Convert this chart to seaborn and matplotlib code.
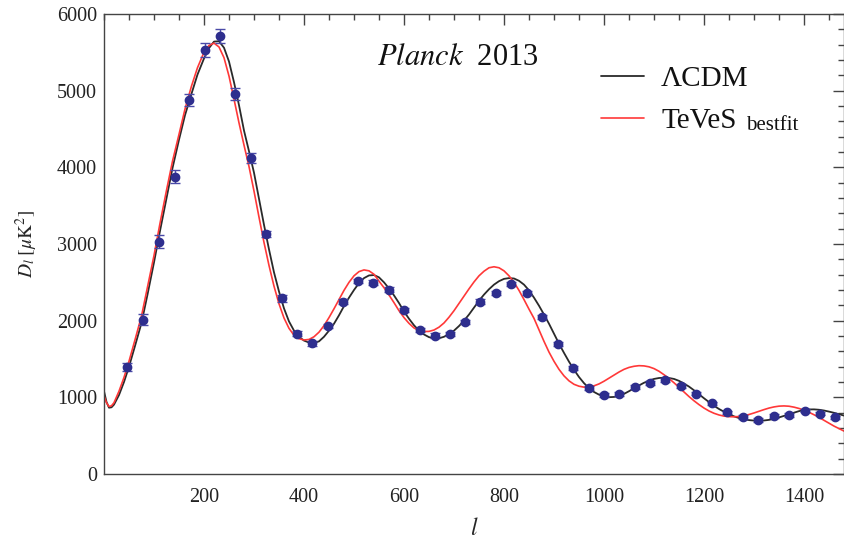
import numpy as np
import pandas as pd
import matplotlib
matplotlib.use("Agg")
import matplotlib.pyplot as plt
import seaborn as sns
from matplotlib.ticker import MultipleLocator, FixedLocator

# ---------------- data ----------------
l_data = [47, 78, 110, 142, 170, 202, 232, 262, 294, 324, 356, 386, 416, 448, 478,
          508, 538, 570, 600, 632, 662, 692, 722, 752, 784, 814, 846, 876, 908, 938,
          970, 1000, 1030, 1062, 1092, 1122, 1154, 1184, 1216, 1246, 1278, 1308, 1340,
          1370, 1402, 1432, 1462]
D_data = [1400, 2015, 3030, 3880, 4880, 5530, 5710, 4960, 4120, 3130, 2290, 1830, 1705,
          1930, 2250, 2515, 2495, 2405, 2135, 1880, 1805, 1830, 1985, 2250, 2360, 2480,
          2357, 2042, 1695, 1378, 1125, 1029, 1045, 1135, 1185, 1230, 1148, 1050, 922,
          805, 744, 703, 757, 768, 826, 787, 737]
D_err = [50, 75, 85, 87, 80, 95, 90, 80, 65, 45, 40, 35, 30, 30, 30, 30, 30, 30, 28,
         28, 28, 28, 28, 28, 28, 28, 26, 26, 26, 26, 25, 25, 25, 25, 24, 24, 24, 24,
         23, 23, 22, 22, 22, 22, 21, 21, 20]

l_low = [0, 5, 10, 15, 20, 30, 40, 50, 62, 75, 87, 100, 112, 125, 137, 150, 162, 175,
         187, 200]
l_high = list(range(210, 1490, 10))
l_curve = l_low + l_high

D_lcdm = [1080, 940, 865, 870, 905, 1030, 1200, 1400, 1670, 1970,
          2340, 2760, 3170, 3600, 3990, 4360, 4680, 4960, 5210, 5420,
          # 210 - 300
          5555, 5640, 5645, 5560, 5380, 5110, 4810, 4480, 4210, 3930,
          # 310 - 400
          3590, 3250, 2930, 2630, 2380, 2160, 1990, 1870, 1790, 1740,
          # 410 - 500
          1715, 1710, 1730, 1790, 1870, 1960, 2070, 2190, 2300, 2400,
          # 510 - 600
          2490, 2555, 2590, 2595, 2565, 2500, 2420, 2330, 2230, 2120,
          # 610 - 700
          2025, 1940, 1870, 1820, 1785, 1770, 1770, 1790, 1825, 1870,
          # 710 - 800
          1930, 2000, 2080, 2170, 2260, 2340, 2410, 2470, 2515, 2545,
          # 810 - 900
          2555, 2550, 2520, 2470, 2395, 2300, 2195, 2080, 1960, 1830,
          # 910 - 1000
          1700, 1580, 1465, 1360, 1265, 1185, 1120, 1070, 1035, 1012,
          # 1010 - 1100
          1002, 1005, 1020, 1045, 1080, 1118, 1155, 1190, 1218, 1240,
          # 1110 - 1200
          1252, 1256, 1252, 1240, 1215, 1180, 1140, 1092, 1040, 988,
          # 1210 - 1300
          938, 890, 848, 812, 780, 752, 730, 714, 703, 697,
          # 1310 - 1400
          695, 698, 706, 720, 738, 758, 778, 800, 820, 834,
          # 1410 - 1480
          842, 843, 838, 828, 814, 798, 780, 762]

D_teves = [1020, 930, 880, 890, 930, 1080, 1260, 1470, 1750, 2060,
           2440, 2850, 3270, 3700, 4080, 4430, 4760, 5060, 5300, 5500,
           # 210 - 300
           5590, 5620, 5570, 5430, 5190, 4890, 4580, 4290, 4010, 3690,
           # 310 - 400
           3350, 3020, 2720, 2450, 2220, 2035, 1900, 1810, 1765, 1748,
           # 410 - 500
           1755, 1790, 1850, 1935, 2040, 2155, 2275, 2395, 2500, 2585,
           # 510 - 600
           2640, 2662, 2650, 2605, 2515, 2430, 2335, 2235, 2130, 2040,
           # 610 - 700
           1965, 1905, 1870, 1858, 1860, 1878, 1915, 1970, 2045, 2130,
           # 710 - 800
           2225, 2320, 2415, 2505, 2585, 2645, 2690, 2703, 2690, 2650,
           # 810 - 900
           2585, 2500, 2395, 2275, 2150, 2030, 1880, 1730, 1590, 1470,
           # 910 - 1000
           1365, 1280, 1215, 1170, 1145, 1133, 1135, 1150, 1175, 1210,
           # 1010 - 1100
           1250, 1290, 1330, 1365, 1390, 1405, 1413, 1410, 1398, 1375,
           # 1110 - 1200
           1340, 1295, 1245, 1190, 1130, 1070, 1010, 955, 905, 860,
           # 1210 - 1300
           822, 792, 770, 755, 748, 746, 750, 760, 776, 796,
           # 1310 - 1400
           818, 840, 860, 875, 885, 888, 884, 872, 855, 832,
           # 1410 - 1480
           805, 773, 738, 700, 662, 625, 592, 560]

xticks = [200, 400, 600, 800, 1000, 1200, 1400]
yticks = [0, 1000, 2000, 3000, 4000, 5000, 6000]

# ---------------- style ----------------
sns.set_theme(style="white")
plt.rcParams["font.family"] = ["Liberation Serif", "DejaVu Serif"]
plt.rcParams["mathtext.fontset"] = "stix"

fig = plt.figure(figsize=(8.45, 5.44), dpi=100)
ax = fig.add_axes([104 / 845, 1 - 474 / 544, 740 / 845, 460 / 544])

df_l = pd.DataFrame({"l": l_curve, "D": D_lcdm})
df_t = pd.DataFrame({"l": l_curve, "D": D_teves})
sns.lineplot(data=df_l, x="l", y="D", color="#2a2a2a", lw=1.3, ax=ax,
             label="\u039bCDM", estimator=None, sort=False)
sns.lineplot(data=df_t, x="l", y="D", color="#ff3838", lw=1.2, ax=ax,
             label="TeVeS", estimator=None, sort=False)

ax.errorbar(l_data, D_data, yerr=D_err, fmt="o", ms=6, color="#2e2e8e",
            ecolor="#4a4aa8", elinewidth=1.0, capsize=3.5, capthick=1.0, zorder=4)

ax.set_xlim(0, 1480)
ax.set_ylim(0, 6000)
ax.xaxis.set_major_locator(FixedLocator(xticks))
ax.xaxis.set_minor_locator(MultipleLocator(50))
ax.yaxis.set_major_locator(FixedLocator(yticks))
ax.yaxis.set_minor_locator(MultipleLocator(200))
ax.tick_params(which="both", direction="in", top=True, right=True,
               color="#444444", width=1.0)
ax.tick_params(which="major", length=8, labelsize=14.5, labelcolor="#222222")
ax.tick_params(which="minor", length=4)
ax.tick_params(axis="x", which="major", pad=10)
ax.tick_params(axis="y", which="major", pad=5)
for s in ax.spines.values():
    s.set_color("#444444")
    s.set_linewidth(1.0)

ax.set_xlabel(r"$l$", fontsize=17, labelpad=8)
ax.set_ylabel(r"$D_l\;[\mu\mathrm{K}^2]$", fontsize=14, labelpad=12)

ax.text(0.478, 0.905, r"$\mathit{Planck}$  2013", transform=ax.transAxes,
        fontsize=22, ha="center", va="center", color="#111111")

leg = ax.legend(loc="upper left", bbox_to_anchor=(0.672, 0.888), frameon=False,
                fontsize=21, handlelength=1.45, handletextpad=0.6,
                labelspacing=0.55, borderpad=0, borderaxespad=0)
for t in leg.get_texts():
    t.set_color("#111111")

fig.canvas.draw()
bb = leg.get_texts()[1].get_window_extent()
x_px = bb.x1 + 10
y_px = bb.y0 + 4
fig.text(x_px / fig.bbox.width, y_px / fig.bbox.height, "bestfit", fontsize=15,
         ha="left", va="baseline", color="#111111")

fig.savefig("out.png", dpi=100, facecolor="white")
